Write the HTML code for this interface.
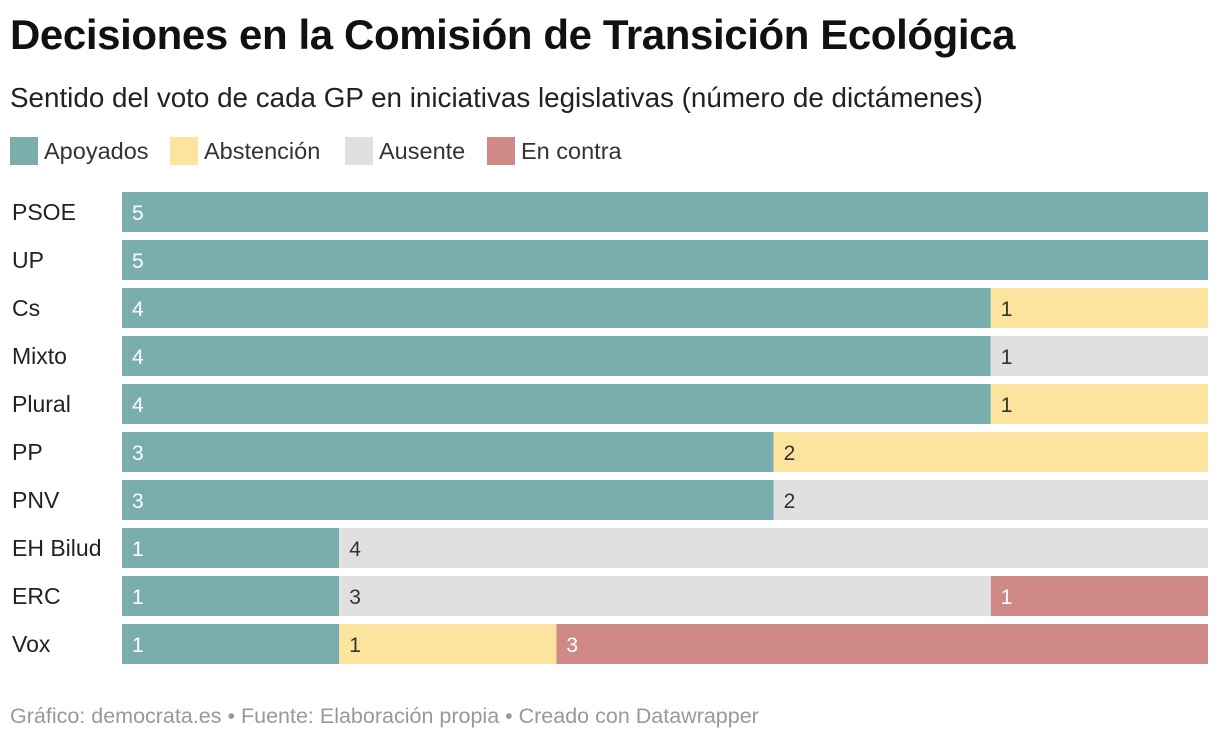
<!DOCTYPE html>
<html><head><meta charset="utf-8">
<style>
body{margin:0;background:#fff;font-family:"Liberation Sans",sans-serif;}
#wrap{position:relative;width:1220px;height:742px;overflow:hidden;}
h1{position:absolute;left:10px;top:11px;margin:0;font-size:42px;font-weight:bold;color:#111;letter-spacing:-0.4px;}
.sub{position:absolute;left:10px;top:82px;font-size:27.8px;color:#222;}
.leg{position:absolute;top:137px;display:flex;align-items:center;font-size:23.5px;color:#333;}
.leg span.sw{width:28px;height:28px;margin-right:6px;display:inline-block;}
.foot{position:absolute;left:10px;top:704px;font-size:21.5px;color:#999;}
</style></head><body>
<div id="wrap">
<h1>Decisiones en la Comisión de Transición Ecológica</h1>
<div class="sub">Sentido del voto de cada GP en iniciativas legislativas (número de dictámenes)</div>
<div class="leg" style="left:10px"><span class="sw" style="background:#7aaeae"></span>Apoyados</div>
<div class="leg" style="left:170px"><span class="sw" style="background:#fde49e"></span>Abstención</div>
<div class="leg" style="left:345px"><span class="sw" style="background:#e0e0e0"></span>Ausente</div>
<div class="leg" style="left:487px"><span class="sw" style="background:#cf8a87"></span>En contra</div>
<svg id="svg" width="1220" height="742" style="position:absolute;left:0;top:0"></svg>
<div class="foot">Gráfico: democrata.es • Fuente: Elaboración propia • Creado con Datawrapper</div>
</div>
<script>
const categories=["PSOE","UP","Cs","Mixto","Plural","PP","PNV","EH Bilud","ERC","Vox"];
const apoyados=[5,5,4,4,4,3,3,1,1,1];
const abstencion=[0,0,1,0,1,2,0,0,0,1];
const ausente=[0,0,0,1,0,0,2,4,3,0];
const enContra=[0,0,0,0,0,0,0,0,1,3];
const seriesNames=["apoyados","abstencion","ausente","en-contra"];
const colors=["#7aaeae","#fde49e","#e0e0e0","#cf8a87"];
const textColors=["#fff","#333","#333","#fff"];
const x0=122,x1=1208,y0=192,step=48,bh=40;
const svg=document.getElementById('svg');
const NS="http://www.w3.org/2000/svg";
const series=[apoyados,abstencion,ausente,enContra];
categories.forEach((c,i)=>{
  const total=series.reduce((s,a)=>s+a[i],0);
  const sx=v=>x0+(x1-x0)*v/total;
  const y=y0+i*step;
  const t=document.createElementNS(NS,'text');
  t.setAttribute('x',12);t.setAttribute('y',y+bh/2+8);
  t.setAttribute('font-size','23');t.setAttribute('fill','#222');
  
  
  t.textContent=c;svg.appendChild(t);
  let acc=0;
  series.forEach((arr,k)=>{
    const v=arr[i];if(!v)return;
    const r=document.createElementNS(NS,'rect');
    r.setAttribute('x',sx(acc));r.setAttribute('y',y);
    r.setAttribute('width',sx(acc+v)-sx(acc));r.setAttribute('height',bh);
    r.setAttribute('fill',colors[k]);
    
    
    svg.appendChild(r);
    const l=document.createElementNS(NS,'text');
    l.setAttribute('x',sx(acc)+10);l.setAttribute('y',y+bh/2+8);
    l.setAttribute('font-size','21');l.setAttribute('fill',textColors[k]);
    
    
    l.textContent=v;svg.appendChild(l);
    acc+=v;
  });
});
</script>
</body></html>
